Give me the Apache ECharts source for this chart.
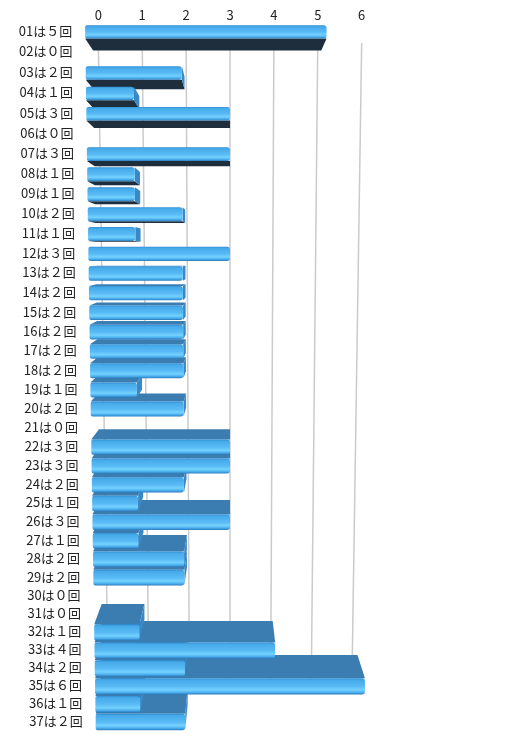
<!DOCTYPE html>
<html>
<head>
<meta charset="utf-8">
<script src="https://cdn.jsdelivr.net/npm/echarts@6/dist/echarts.min.js"></script>
<style>
  html, body { margin: 0; padding: 0; background: #fff; }
  #chart { width: 525px; height: 740px; }
</style>
</head>
<body>
<div id="chart"></div>
<script>
// rows and how many times each came up
var rowIds = ['01', '02', '03', '04', '05', '06', '07', '08', '09', '10',
              '11', '12', '13', '14', '15', '16', '17', '18', '19', '20',
              '21', '22', '23', '24', '25', '26', '27', '28', '29', '30',
              '31', '32', '33', '34', '35', '36', '37'];
var counts = [5, 0, 2, 1, 3, 0, 3, 1, 1, 2,
              1, 3, 2, 2, 2, 2, 2, 2, 1, 2,
              0, 3, 3, 2, 1, 3, 1, 2, 2, 0,
              0, 1, 4, 2, 6, 1, 2];
var valueTicks = [0, 1, 2, 3, 4, 5, 6];

function wide(n) { return String(n).replace(/[0-9]/g, function(d) { return String.fromCharCode(0xFF10 + +d); }); }
var categories = rowIds.map(function(id, i) { return id + 'は' + wide(counts[i]) + '回'; });

// fake 3D view
var N = rowIds.length;
var VANISH_VALUE = 3;      // bars converge towards this value
var EYE_ROW = 11;          // row seen straight on (no top/bottom face)
var FRONT_TOP = 1.10, FRONT_BOTTOM = 1.02;  // front plane scale vs axis, top / bottom row
var BAR_DEPTH = 0.945;     // back face of a bar
var WALL_DEPTH = 0.908;    // back wall with the grid lines
var BEND = 0.04;           // rows get closer together towards the bottom

function view(api, idx) {
  var c = api.coord([VANISH_VALUE, 0]);
  var t = idx / (N - 1);
  var eye = api.coord([0, EYE_ROW])[1] + BEND * EYE_ROW * (N - 1 - EYE_ROW);
  return {
    cx: c[0], eyeY: eye,
    s: FRONT_TOP + (FRONT_BOTTOM - FRONT_TOP) * t,
    bend: BEND * idx * (N - 1 - idx),
    t: t
  };
}
function sink(vw, p, k) { return [vw.cx + (p[0] - vw.cx) * k, vw.eyeY + (p[1] - vw.eyeY) * k]; }

var frontFill = new echarts.graphic.LinearGradient(0, 0, 0, 1, [
  { offset: 0, color: '#2f8fd4' }, { offset: 0.12, color: '#47abea' },
  { offset: 0.5, color: '#58baf5' }, { offset: 0.72, color: '#74d2ff' },
  { offset: 0.87, color: '#4cb0ee' }, { offset: 1, color: '#2a7cbc' }
]);

function renderBar(params, api) {
  var v = api.value(0), idx = api.value(1);
  var vw = view(api, idx);
  var p0 = api.coord([0, idx]), p1 = api.coord([v, idx]);
  var band = api.size([0, 1])[1];
  var yc = p0[1] + vw.bend;
  var h = band * (0.69 + 0.17 * vw.t);
  var x0 = vw.cx + (p0[0] - vw.cx) * vw.s;
  var x1 = vw.cx + (p1[0] - vw.cx) * vw.s;
  var yt = yc - h / 2, yb = yc + h / 2;
  var base = 100 - Math.abs(idx - EYE_ROW) * 3;
  var kids = [{
    type: 'text', z2: 300,
    style: { text: categories[idx], x: x0 - 13, y: yc - 1, align: 'right', verticalAlign: 'middle',
             fill: '#222', font: '13px "Noto Sans CJK JP", sans-serif' }
  }];
  if (v > 0) {
    if (yb < vw.eyeY) {
      kids.push({ type: 'polygon', z2: base,
        shape: { points: [[x0, yb], [x1, yb], sink(vw, [x1, yb], BAR_DEPTH), sink(vw, [x0, yb], BAR_DEPTH)] },
        style: { fill: '#1f2e3d' } });
    }
    if (yt > vw.eyeY) {
      kids.push({ type: 'polygon', z2: base,
        shape: { points: [[x0, yt], [x1, yt], sink(vw, [x1, yt], BAR_DEPTH), sink(vw, [x0, yt], BAR_DEPTH)] },
        style: { fill: '#3b7cb1' } });
    }
    if (x1 < vw.cx) {
      kids.push({ type: 'polygon', z2: base + 1,
        shape: { points: [[x1, yt], sink(vw, [x1, yt], BAR_DEPTH), sink(vw, [x1, yb], BAR_DEPTH), [x1, yb]] },
        style: { fill: '#3a88c6' } });
    }
    kids.push({ type: 'rect', z2: base + 2,
      shape: { x: x0, y: yt, width: x1 - x0, height: h, r: [2, 3, 3, 2] },
      style: { fill: frontFill } });
  }
  return { type: 'group', children: kids };
}

function renderGrid(params, api) {
  var u = api.value(0);
  var band = api.size([0, 1])[1];
  var ends = [-0.5, N - 0.5].map(function(idx) {
    var vw = view(api, idx);
    var p = api.coord([u, 0]);
    var y = p[1] + idx * band + vw.bend;
    var x = vw.cx + (p[0] - vw.cx) * vw.s;
    return sink(vw, [x, y], WALL_DEPTH);
  });
  return { type: 'line', z2: 1,
    shape: { x1: ends[0][0], y1: ends[0][1], x2: ends[1][0], y2: ends[1][1] },
    style: { stroke: '#cbcbcb', lineWidth: 1.5 } };
}

var chart = echarts.init(document.getElementById('chart'));
chart.setOption({
  animation: false,
  grid: { left: 98.3, right: 163.3, top: 22.4, bottom: 8.4 },
  xAxis: {
    type: 'value', position: 'top', min: 0, max: 6, interval: 1,
    axisLine: { show: false }, axisTick: { show: false }, splitLine: { show: false },
    axisLabel: { margin: 1, color: '#222', fontSize: 13, fontFamily: '"Noto Sans CJK JP", sans-serif' }
  },
  yAxis: {
    type: 'category', inverse: true, data: categories,
    axisLine: { show: false }, axisTick: { show: false }, axisLabel: { show: false }
  },
  series: [
    { type: 'custom', z: 1, clip: false, renderItem: renderGrid,
      data: valueTicks.map(function(u) { return [u, 0]; }) },
    { type: 'custom', z: 2, clip: false, renderItem: renderBar,
      data: counts.map(function(c, i) { return [c, i]; }) }
  ]
});
</script>
</body>
</html>
